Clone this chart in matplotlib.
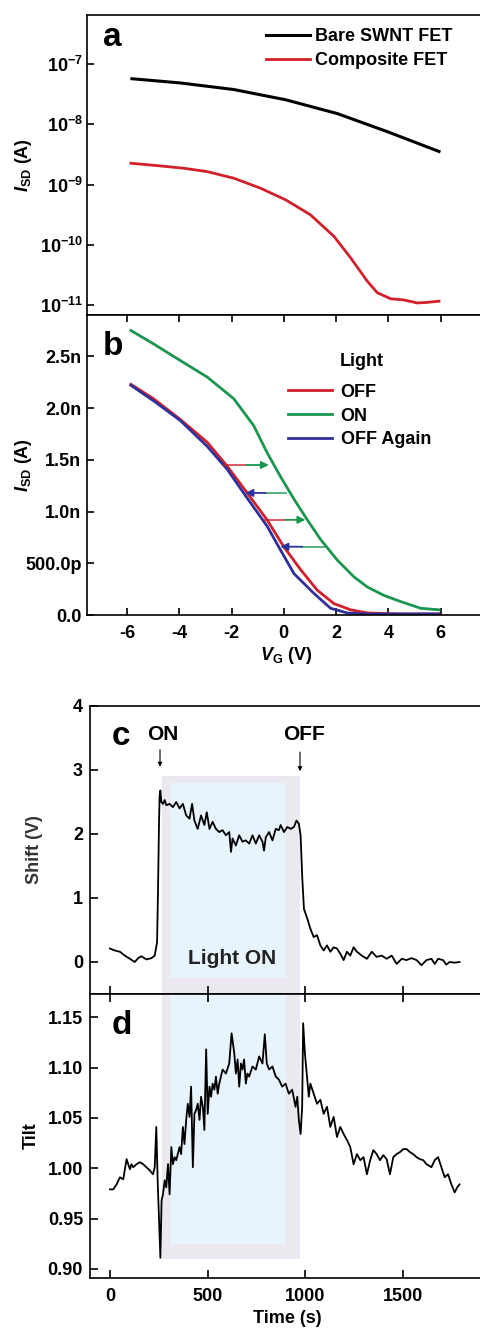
import matplotlib
matplotlib.use("Agg")
import matplotlib.pyplot as plt
from matplotlib.patches import Rectangle

plt.rcParams['font.family'] = ['Liberation Sans', 'DejaVu Sans']
plt.rcParams['font.weight'] = 'bold'
plt.rcParams['mathtext.fontset'] = 'custom'
plt.rcParams['mathtext.rm'] = 'Liberation Sans:bold'
plt.rcParams['mathtext.bf'] = 'Liberation Sans:bold'
plt.rcParams['mathtext.it'] = 'Liberation Sans:italic:bold'
plt.rcParams['axes.linewidth'] = 1.2

# ---------------- Panel a data ----------------
a_bare_vg = [-5.81, -3.96, -1.91, 0.07, 2.05, 3.96, 5.94]
a_bare_log = [-7.24, -7.31, -7.42, -7.59, -7.82, -8.12, -8.45]
a_comp_vg = [-5.85, -4.85, -3.83, -2.93, -1.91, -0.89, 0.07, 1.02, 1.92, 2.56,
             3.20, 3.58, 4.09, 4.60, 5.11, 5.49, 5.94]
a_comp_log = [-8.646, -8.685, -8.729, -8.785, -8.895, -9.061, -9.254, -9.503,
              -9.862, -10.22, -10.61, -10.80, -10.90, -10.92, -10.97, -10.96, -10.94]
a_labels = ["Bare SWNT FET", "Composite FET"]
a_yticks_exp = [-11, -10, -9, -8, -7]

# ---------------- Panel b data (nA) ----------------
b_on_vg = [-5.85, -4.98, -3.96, -2.93, -1.91, -1.15, -0.64, -0.13, 0.39, 0.90,
           1.41, 2.05, 2.68, 3.20, 3.83, 4.47, 5.24, 5.94]
b_on_i = [2.75, 2.62, 2.46, 2.30, 2.09, 1.83, 1.57, 1.34, 1.12, 0.92,
          0.73, 0.53, 0.37, 0.27, 0.19, 0.13, 0.065, 0.05]
b_off_vg = [-5.85, -4.98, -3.96, -2.93, -2.17, -1.40, -0.64, 0.00, 0.64, 1.28,
            1.92, 2.56, 3.20, 4.47, 5.94]
b_off_i = [2.23, 2.09, 1.89, 1.67, 1.44, 1.18, 0.92, 0.66, 0.44, 0.24,
           0.11, 0.05, 0.02, 0.01, 0.01]
b_again_vg = [-5.85, -4.98, -3.96, -2.93, -2.17, -1.40, -0.64, -0.13, 0.39, 1.15,
              1.79, 2.43, 3.20, 5.94]
b_again_i = [2.22, 2.07, 1.88, 1.63, 1.41, 1.13, 0.86, 0.63, 0.40, 0.21,
             0.065, 0.02, 0.01, 0.01]
b_labels = ["OFF", "ON", "OFF Again"]
b_legend_title = "Light"
b_yticks = [0.0, 0.5, 1.0, 1.5, 2.0, 2.5]
b_yticklabels = ["0.0", "500.0p", "1.0n", "1.5n", "2.0n", "2.5n"]
b_xticks = [-6, -4, -2, 0, 2, 4, 6]
# shift arrows: start V, end V, current (nA)
b_arrow_start = [-2.30, 0.07, -0.70, 1.54]
b_arrow_end = [-0.57, -1.47, 0.83, -0.13]
b_arrow_i = [1.45, 1.18, 0.92, 0.66]

# ---------------- Panel c data ----------------
c_t = [0, 25, 51, 76, 102, 127, 144, 161, 186, 212, 229, 241, 246, 251, 254, 258,
       263, 271, 280, 288, 305, 322, 339, 356, 373, 390, 407, 420, 432, 449, 466,
       483, 495, 509, 525, 542, 559, 576, 593, 610, 619, 627, 644, 661, 678, 695,
       712, 729, 746, 763, 780, 788, 797, 814, 831, 848, 864, 873, 890, 907, 924,
       941, 954, 966, 975, 983, 992, 1009, 1025, 1042, 1059, 1076, 1093, 1110,
       1127, 1144, 1161, 1178, 1195, 1212, 1229, 1246, 1263, 1288, 1314, 1339,
       1364, 1390, 1415, 1441, 1466, 1492, 1517, 1542, 1568, 1593, 1619, 1644,
       1661, 1678, 1703, 1720, 1737, 1763, 1788]
c_shift = [0.21, 0.18, 0.16, 0.10, 0.05, 0.0, 0.06, 0.09, 0.04, 0.06, 0.10, 0.31,
           1.15, 2.19, 2.60, 2.68, 2.50, 2.47, 2.53, 2.45, 2.47, 2.42, 2.50, 2.40,
           2.47, 2.29, 2.24, 2.47, 2.21, 2.08, 2.29, 2.14, 2.34, 2.08, 2.19, 2.08,
           2.03, 2.06, 1.98, 2.03, 1.72, 1.93, 1.82, 1.98, 1.88, 1.90, 1.85, 1.98,
           1.85, 1.98, 1.88, 1.74, 1.95, 2.03, 1.90, 2.08, 2.06, 2.14, 2.03, 2.11,
           2.08, 2.11, 2.21, 2.16, 1.98, 1.35, 0.83, 0.68, 0.52, 0.39, 0.42, 0.26,
           0.18, 0.26, 0.16, 0.23, 0.21, 0.13, 0.03, 0.16, 0.10, 0.23, 0.16, 0.10,
           0.05, 0.16, 0.08, 0.10, 0.05, 0.10, -0.03, 0.05, 0.03, 0.06, 0.03, -0.05,
           0.03, 0.05, -0.03, 0.05, 0.03, -0.04, 0.0, -0.01, 0.0]
c_yticks = [0, 1, 2, 3, 4]
light_on_t = 266
light_off_t = 972

# ---------------- Panel d data ----------------
d_t = [0, 17, 34, 51, 68, 85, 102, 110, 119, 136, 153, 170, 186, 203, 220, 229,
       237, 244, 251, 258, 264, 271, 280, 288, 297, 305, 314, 322, 331, 339, 356,
       364, 373, 381, 390, 398, 407, 415, 424, 432, 441, 449, 458, 466, 475, 483,
       492, 500, 509, 517, 525, 534, 542, 551, 559, 576, 593, 610, 622, 636, 644,
       653, 661, 670, 678, 686, 695, 703, 712, 729, 746, 763, 780, 792, 802, 814,
       831, 848, 864, 881, 898, 915, 932, 949, 958, 966, 975, 983, 988, 997, 1009,
       1017, 1025, 1042, 1059, 1076, 1093, 1110, 1127, 1144, 1161, 1178, 1195,
       1212, 1229, 1246, 1263, 1280, 1297, 1314, 1331, 1347, 1364, 1381, 1398,
       1415, 1432, 1449, 1466, 1483, 1500, 1517, 1534, 1551, 1568, 1585, 1602,
       1619, 1644, 1661, 1678, 1695, 1712, 1729, 1746, 1763, 1776, 1788]
d_tilt = [0.979, 0.979, 0.984, 0.991, 0.989, 1.009, 0.999, 1.004, 1.001, 1.004,
          1.006, 1.004, 1.001, 0.998, 0.994, 1.001, 1.041, 0.988, 0.948, 0.911,
          0.968, 0.974, 0.988, 0.981, 1.004, 0.974, 1.021, 1.004, 1.011, 1.008,
          1.021, 1.014, 1.041, 1.024, 1.048, 1.064, 1.051, 1.081, 1.001, 1.054,
          1.058, 1.064, 1.048, 1.071, 1.061, 1.038, 1.118, 1.054, 1.081, 1.071,
          1.084, 1.078, 1.091, 1.074, 1.084, 1.098, 1.094, 1.104, 1.134, 1.114,
          1.094, 1.108, 1.081, 1.104, 1.098, 1.108, 1.084, 1.094, 1.091, 1.101,
          1.098, 1.111, 1.104, 1.133, 1.104, 1.098, 1.101, 1.091, 1.088, 1.081,
          1.084, 1.074, 1.078, 1.061, 1.071, 1.048, 1.034, 1.061, 1.144, 1.114,
          1.088, 1.071, 1.084, 1.074, 1.064, 1.068, 1.054, 1.061, 1.041, 1.051,
          1.031, 1.041, 1.034, 1.028, 1.021, 1.004, 1.014, 1.008, 1.011, 0.994,
          1.008, 1.018, 1.014, 1.008, 1.013, 1.009, 0.994, 1.011, 1.014, 1.016,
          1.019, 1.019, 1.016, 1.014, 1.011, 1.009, 1.008, 1.004, 1.001, 1.008,
          1.011, 1.001, 0.991, 0.994, 0.984, 0.976, 0.981, 0.984]
d_yticks = [0.90, 0.95, 1.00, 1.05, 1.10, 1.15]
d_xticks = [0, 500, 1000, 1500]

RED = '#d1202b'
GREEN = '#1b9550'
BLUE = '#30309a'
W, H = 480, 1332

fig = plt.figure(figsize=(W / 100, H / 100), dpi=100)


def ax_px(left, top, right, bottom):
    return fig.add_axes([left / W, 1 - bottom / H, (right - left) / W, (bottom - top) / H])


FS = 13

# ---------------- Panel a ----------------
axa = ax_px(87, 15, 485, 315)
axa.plot(a_bare_vg, [10 ** v for v in a_bare_log], color='black', lw=2.2, label=a_labels[0])
axa.plot(a_comp_vg, [10 ** v for v in a_comp_log], color=RED, lw=2.0, label=a_labels[1])
axa.set_yscale('log')
axa.set_xlim(-7.53, 7.7)
axa.set_ylim(10 ** -11.17, 10 ** -6.18)
axa.set_yticks([10.0 ** e for e in a_yticks_exp])
axa.set_yticklabels([r'$10^{%d}$' % e for e in a_yticks_exp])
axa.minorticks_off()
axa.set_xticks(b_xticks)
axa.tick_params(axis='x', which='both', bottom=False, labelbottom=False)
axa.tick_params(axis='y', direction='in', length=5, width=1.2, labelsize=FS, pad=3)
axa.set_ylabel(r'$I_{\mathrm{SD}}$ (A)', fontsize=FS, fontweight='bold')
axa.yaxis.set_label_coords(-0.133, 0.5)
axa.text(0.04, 0.925, 'a', transform=axa.transAxes, fontsize=24, fontweight='bold',
         va='center', ha='left')
axa.legend(loc='upper left', bbox_to_anchor=(0.41, 1.01), frameon=False, fontsize=FS,
           handlelength=2.4, handletextpad=0.3, labelspacing=0.38, borderpad=0.4)

# ---------------- Panel b ----------------
axb = ax_px(87, 315, 485, 615)
axb.plot(b_off_vg, b_off_i, color=RED, lw=2.0, label=b_labels[0])
axb.plot(b_on_vg, b_on_i, color=GREEN, lw=2.0, label=b_labels[1])
axb.plot(b_again_vg, b_again_i, color=BLUE, lw=2.0, label=b_labels[2])
arrow_cols = [(RED, GREEN), (GREEN, BLUE), (RED, GREEN), (GREEN, BLUE)]
for s, e, i, (c1, c2) in zip(b_arrow_start, b_arrow_end, b_arrow_i, arrow_cols):
    m = (s + e) / 2
    axb.plot([s, m], [i, i], color=c1, lw=1.3, alpha=0.8)
    axb.annotate('', xy=(e, i), xytext=(m, i),
                 arrowprops=dict(arrowstyle='-|>', color=c2, lw=1.3,
                                 mutation_scale=11, shrinkA=0, shrinkB=0))
axb.set_xlim(-7.53, 7.7)
axb.set_ylim(0, 2.9)
axb.set_yticks(b_yticks)
axb.set_yticklabels(b_yticklabels)
axb.set_xticks(b_xticks)
axb.set_xticklabels([str(v) for v in b_xticks])
axb.tick_params(axis='both', direction='in', length=5, width=1.2, labelsize=FS,
                top=True)
axb.tick_params(axis='y', pad=4)
axb.tick_params(axis='x', pad=7)
axb.set_ylabel(r'$I_{\mathrm{SD}}$ (A)', fontsize=FS, fontweight='bold')
axb.yaxis.set_label_coords(-0.133, 0.5)
axb.set_xlabel(r'$V_{\mathrm{G}}$ (V)', fontsize=FS, fontweight='bold', labelpad=2)
axb.text(0.04, 0.895, 'b', transform=axb.transAxes, fontsize=24, fontweight='bold',
         va='center', ha='left')
axb.legend(loc='upper left', bbox_to_anchor=(0.465, 0.825), frameon=False, fontsize=FS,
           handlelength=2.4, handletextpad=0.5, labelspacing=0.38, borderpad=0.4)
axb.text((340 - 87) / 398, 1 - (362 - 315) / 300, b_legend_title, transform=axb.transAxes,
         fontsize=FS, fontweight='bold', va='center', ha='left')

# ---------------- Panels c and d ----------------
axc = ax_px(90, 706, 485, 994)
axd = ax_px(90, 994, 485, 1278)
xl = (-102, 1918)

# light ON box spanning panels c and d
for ax, (y0, y1), inset in ((axc, (-0.5, 2.9), (0.25, 0.35)), (axd, (0.91, 1.2), (0.015, 0.03))):
    ax.add_patch(Rectangle((light_on_t, y0), light_off_t - light_on_t, y1 - y0,
                           facecolor='#ebe8ef', edgecolor='none', zorder=0))
    ax.add_patch(Rectangle((light_on_t + 40, y0 + inset[0]),
                           light_off_t - light_on_t - 110, (y1 - y0) - inset[1],
                           facecolor='#e8f4fb', edgecolor='none', zorder=0))

axc.plot(c_t, c_shift, color='black', lw=1.3)
axc.set_xlim(*xl)
axc.set_ylim(-0.5, 4)
axc.set_yticks(c_yticks)
axc.set_xticks(d_xticks)
axc.tick_params(axis='x', direction='in', length=6, width=1.2, labelbottom=False)
axc.tick_params(axis='y', direction='in', length=6, width=1.2, labelsize=FS, pad=5)
axc.set_ylabel('Shift (V)', fontsize=FS, fontweight='bold', color='#333333')
axc.yaxis.set_label_coords(-0.119, 0.5)
axc.text(10, 3.52, 'c', fontsize=24, fontweight='bold', va='center', ha='left')
axc.text(271, 3.55, 'ON', fontsize=15, fontweight='bold', ha='center', va='center')
axc.text(993, 3.55, 'OFF', fontsize=15, fontweight='bold', ha='center', va='center')
axc.annotate('', xy=(256, 3.05), xytext=(256, 3.32),
             arrowprops=dict(arrowstyle='-|>', color='black', lw=0.8, mutation_scale=6,
                             shrinkA=0, shrinkB=0))
axc.annotate('', xy=(972, 2.98), xytext=(972, 3.28),
             arrowprops=dict(arrowstyle='-|>', color='black', lw=0.8, mutation_scale=6,
                             shrinkA=0, shrinkB=0))
axc.text(624, 0.06, 'Light ON', fontsize=15, fontweight='bold', ha='center', va='center',
         color='#222222')

axd.plot(d_t, d_tilt, color='black', lw=1.3)
axd.set_xlim(*xl)
axd.set_ylim(0.891, 1.173)
axd.set_yticks(d_yticks)
axd.set_yticklabels(['%.2f' % v for v in d_yticks])
axd.set_xticks(d_xticks)
axd.tick_params(axis='both', direction='in', length=6, width=1.2, labelsize=FS, top=True)
axd.tick_params(axis='y', pad=5)
axd.tick_params(axis='x', pad=7)
axd.set_ylabel('Tilt', fontsize=FS, fontweight='bold')
axd.yaxis.set_label_coords(-0.127, 0.5)
axd.set_xlabel('Time (s)', fontsize=FS, fontweight='bold', labelpad=4)
axd.text(10, 1.142, 'd', fontsize=24, fontweight='bold', va='center', ha='left')

fig.savefig('out.png', dpi=100)
